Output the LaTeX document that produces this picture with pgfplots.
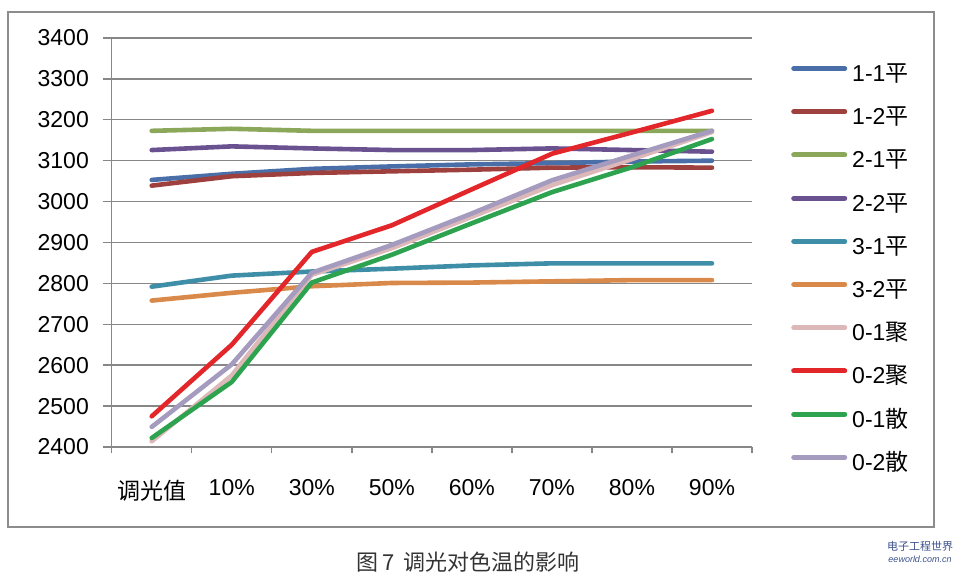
\documentclass[border=0pt]{standalone}
\usepackage{fontspec}
\setmainfont{Liberation Sans}
\newfontfamily\cjk{Noto Sans CJK SC}
\usepackage{pgfplots}
\usepackage{pgfplotstable}
\pgfplotsset{compat=1.18}
\definecolor{cA}{RGB}{74,111,168}
\definecolor{cB}{RGB}{158,65,62}
\definecolor{cC}{RGB}{139,167,90}
\definecolor{cD}{RGB}{106,82,145}
\definecolor{cE}{RGB}{62,142,168}
\definecolor{cF}{RGB}{217,138,75}
\definecolor{cG}{RGB}{221,184,184}
\definecolor{cH}{RGB}{227,38,42}
\definecolor{cI}{RGB}{45,162,79}
\definecolor{cJ}{RGB}{165,155,191}
\definecolor{gridgray}{RGB}{135,135,135}
\definecolor{framegray}{RGB}{140,140,140}
\pgfplotstableread{
x  a    b    c    d    e    f    g    h    i    j
0 3053 3039 3173 3126 2792 2758 2414 2475 2422 2449
1 3068 3062 3178 3135 2819 2777 2575 2650 2559 2602
2 3080 3070 3173 3130 2829 2793 2821 2877 2802 2826
3 3086 3074 3173 3126 2836 2801 2886 2942 2870 2894
4 3091 3078 3173 3126 2844 2802 2963 3030 2947 2971
5 3094 3083 3173 3130 2849 2805 3040 3117 3023 3052
6 3098 3084 3173 3126 2849 2808 3104 3169 3084 3113
7 3100 3083 3173 3122 2849 2808 3170 3222 3153 3173
}\datatable
\begin{document}
\fontsize{23}{26}\selectfont
\begin{tikzpicture}[x=1pt,y=1pt]
\path[use as bounding box] (0,0) rectangle (962,577);
\draw[framegray, line width=2pt] (8,50) rectangle (934,565);
\begin{axis}[
  at={(111.7pt,130pt)}, anchor=south west,
  scale only axis, width=640.3pt, height=409pt,
  xmin=-0.5, xmax=7.5, ymin=2400, ymax=3400,
  ytick={2400,2500,...,3400},
  xtick={0,...,7},
  xticklabels={{\cjk 调光值},10\%,30\%,50\%,60\%,70\%,80\%,90\%},
  minor xtick={-0.5,0.5,...,7.5},
  axis lines*=left,
  axis line style={gridgray, line width=1.4pt},
  tick align=outside,
  major x tick style={draw=none},
  minor x tick style={gridgray, line width=1.4pt},
  minor tick length=6pt,
  major y tick style={gridgray, line width=1.4pt},
  major tick length=9pt,
  ymajorgrids,
  grid style={gridgray, line width=1.4pt},
  tick label style={font=\fontsize{23}{26}\selectfont},
  /pgf/number format/assume math mode=true,
  /pgf/number format/1000 sep={},
  y tick label style={xshift=-6pt},
  x tick label style={yshift=-16pt},
  clip=false,
  legend cell align=left,
  legend style={at={(1.0613,0.935)}, anchor=north west, draw=none, fill=none,
    inner sep=0pt, outer sep=0pt, row sep=21.2pt,
    font=\fontsize{23}{26}\selectfont,
    nodes={inner sep=0pt, text height=17pt, text depth=5pt},
    /tikz/every odd column/.append style={column sep=5pt}},
  legend image code/.code={\draw[#1, line width=5pt, line cap=round] (0pt,7pt) -- (51pt,7pt);},
  every axis plot/.append style={line width=4.6pt, line join=round, line cap=round, mark=none},
]
\addplot[cA] table[x=x,y=a]{\datatable};
\addplot[cB] table[x=x,y=b]{\datatable};
\addplot[cC] table[x=x,y=c]{\datatable};
\addplot[cD] table[x=x,y=d]{\datatable};
\addplot[cE] table[x=x,y=e]{\datatable};
\addplot[cF] table[x=x,y=f]{\datatable};
\addplot[cG] table[x=x,y=g]{\datatable};
\addplot[cH] table[x=x,y=h]{\datatable};
\addplot[cI] table[x=x,y=i]{\datatable};
\addplot[cJ] table[x=x,y=j]{\datatable};
\legend{1-1{\cjk 平},1-2{\cjk 平},2-1{\cjk 平},2-2{\cjk 平},3-1{\cjk 平},3-2{\cjk 平},0-1{\cjk 聚},0-2{\cjk 聚},0-1{\cjk 散},0-2{\cjk 散}}
\end{axis}
\node[font=\cjk\fontsize{22}{24}\selectfont, text=black!80] at (468,15) {图\,7\, 调光对色温的影响};
\node[font=\cjk\fontsize{11}{12}\selectfont, text={rgb,255:red,60;green,80;blue,140}] at (920,31) {电子工程世界};
\node[font=\itshape\fontsize{9}{10}\selectfont, text={rgb,255:red,60;green,80;blue,140}] at (920,18) {eeworld.com.cn};
\end{tikzpicture}
\end{document}
